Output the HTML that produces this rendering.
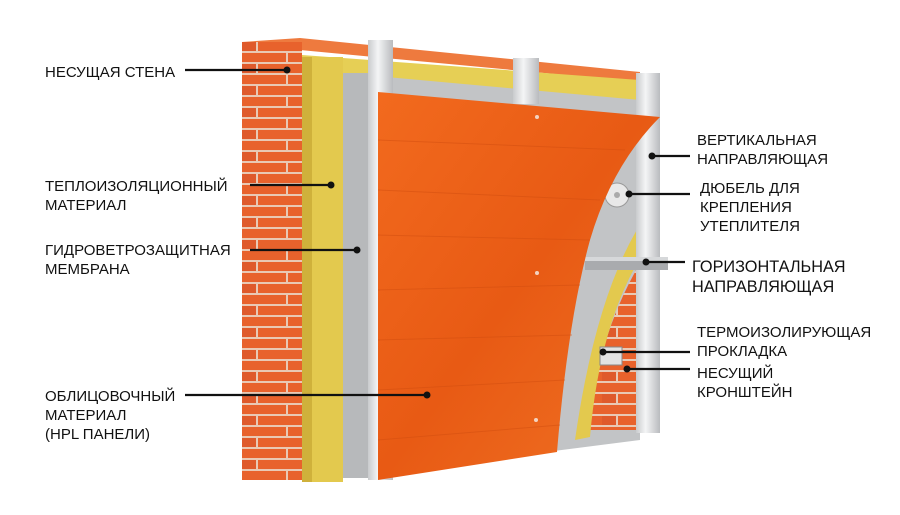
<!DOCTYPE html>
<html><head><meta charset="utf-8"><style>
html,body{margin:0;padding:0;background:#fff;}
svg{display:block}
text{font-family:"Liberation Sans",sans-serif;font-size:15px;fill:#111;}
</style></head><body>
<svg width="900" height="515" viewBox="0 0 900 515" xmlns="http://www.w3.org/2000/svg">
<defs>
<pattern id="brick" x="242" y="42" width="60" height="22" patternUnits="userSpaceOnUse">
<rect width="60" height="22" fill="#e8622c"/>
<rect y="20" width="60" height="2" fill="#e9c9b4"/>
<rect y="9" width="60" height="2" fill="#e9c9b4"/>
<rect x="14" y="0" width="2" height="9" fill="#e9c9b4"/>
<rect x="44" y="11" width="2" height="9" fill="#e9c9b4"/>
<rect y="0" width="14" height="9" fill="#d9552a" opacity="0.6"/>
</pattern>
<linearGradient id="wood" x1="0" y1="0" x2="1" y2="1">
<stop offset="0" stop-color="#f26a1e"/><stop offset="0.5" stop-color="#e85a14"/><stop offset="1" stop-color="#f07224"/>
</linearGradient>
<linearGradient id="rail" x1="0" x2="1">
<stop offset="0" stop-color="#c9cbcd"/><stop offset="0.4" stop-color="#f4f5f6"/><stop offset="1" stop-color="#b9bbbe"/>
</linearGradient>
</defs>
<polygon points="242,42 300,38 640,72 640,82 300,50 242,54" fill="#ee7a3e"/>
<rect x="242" y="42" width="60" height="438" fill="url(#brick)"/>
<polygon points="302,55 640,80 640,105 343,73 302,73" fill="#e6cf55"/>
<rect x="302" y="57" width="41" height="425" fill="#e3c94e"/>
<rect x="302" y="57" width="10" height="425" fill="#cfb13b"/>
<polygon points="343,73 640,100 640,440 343,478" fill="#c2c4c6"/>
<rect x="343" y="73" width="25" height="405" fill="#b7b9bb"/>
<path d="M645,255 Q598,330 588,430 L640,430 L640,255 Z" fill="url(#brick)"/>
<path d="M638,228 Q595,300 575,440 L590,437 Q600,320 645,250 Z" fill="#e3c94e"/>
<rect x="368" y="40" width="25" height="440" fill="url(#rail)"/>
<rect x="513" y="58" width="26" height="46" fill="url(#rail)"/>
<rect x="636" y="73" width="24" height="360" fill="url(#rail)"/>
<polygon points="585,257 668,257 668,270 585,270" fill="#a9abae"/>
<rect x="585" y="257" width="83" height="4" fill="#d6d8da"/>
<circle cx="617" cy="195" r="12" fill="#e8e8e8" stroke="#999" stroke-width="1"/>
<circle cx="617" cy="195" r="3" fill="#aaa"/>
<rect x="600" y="347" width="22" height="18" fill="#e2e2e2" stroke="#888"/>
<path d="M378,92 L660,117 Q612,165 590,240 Q568,320 557,452 L378,480 Z" fill="url(#wood)"/>
<g stroke="#d24e10" stroke-width="1" opacity="0.5" fill="none">
<path d="M378,140 L625,150"/><path d="M378,190 L600,200"/><path d="M378,235 L590,240"/><path d="M378,290 L580,285"/><path d="M378,340 L572,335"/><path d="M378,390 L565,380"/><path d="M378,440 L560,425"/>
</g>
<circle cx="537" cy="117" r="2" fill="#f3d3c0"/>
<circle cx="537" cy="273" r="2" fill="#f3d3c0"/>
<circle cx="536" cy="420" r="2" fill="#f3d3c0"/>
<g stroke="#111" stroke-width="2.2">
<line x1="185" y1="70" x2="287" y2="70"/>
<line x1="250" y1="185" x2="331" y2="185"/>
<line x1="250" y1="250" x2="357" y2="250"/>
<line x1="185" y1="395" x2="427" y2="395"/>
<line x1="652" y1="156" x2="690" y2="156"/>
<line x1="629" y1="194" x2="690" y2="194"/>
<line x1="646" y1="262" x2="685" y2="262"/>
<line x1="603" y1="352" x2="690" y2="352"/>
<line x1="627" y1="369" x2="690" y2="369"/>
</g>
<g fill="#111">
<circle cx="287" cy="70" r="3.5"/><circle cx="331" cy="185" r="3.5"/><circle cx="357" cy="250" r="3.5"/><circle cx="427" cy="395" r="3.5"/>
<circle cx="652" cy="156" r="3.5"/><circle cx="629" cy="194" r="3.5"/><circle cx="646" cy="262" r="3.5"/><circle cx="603" cy="352" r="3.5"/><circle cx="627" cy="369" r="3.5"/>
</g>
<text x="45" y="77">НЕСУЩАЯ СТЕНА</text>
<text x="45" y="191">ТЕПЛОИЗОЛЯЦИОННЫЙ</text>
<text x="45" y="210">МАТЕРИАЛ</text>
<text x="45" y="255">ГИДРОВЕТРОЗАЩИТНАЯ</text>
<text x="45" y="274">МЕМБРАНА</text>
<text x="45" y="401">ОБЛИЦОВОЧНЫЙ</text>
<text x="45" y="420">МАТЕРИАЛ</text>
<text x="45" y="439">(HPL ПАНЕЛИ)</text>
<text x="697" y="145">ВЕРТИКАЛЬНАЯ</text>
<text x="697" y="164">НАПРАВЛЯЮЩАЯ</text>
<text x="700" y="193">ДЮБЕЛЬ ДЛЯ</text>
<text x="700" y="212">КРЕПЛЕНИЯ</text>
<text x="700" y="231">УТЕПЛИТЕЛЯ</text>
<text x="692" y="272" style="font-size:16.3px">ГОРИЗОНТАЛЬНАЯ</text>
<text x="692" y="292" style="font-size:16.3px">НАПРАВЛЯЮЩАЯ</text>
<text x="697" y="337">ТЕРМОИЗОЛИРУЮЩАЯ</text>
<text x="697" y="356">ПРОКЛАДКА</text>
<text x="697" y="378">НЕСУЩИЙ</text>
<text x="697" y="397">КРОНШТЕЙН</text>
</svg>
</body></html>
